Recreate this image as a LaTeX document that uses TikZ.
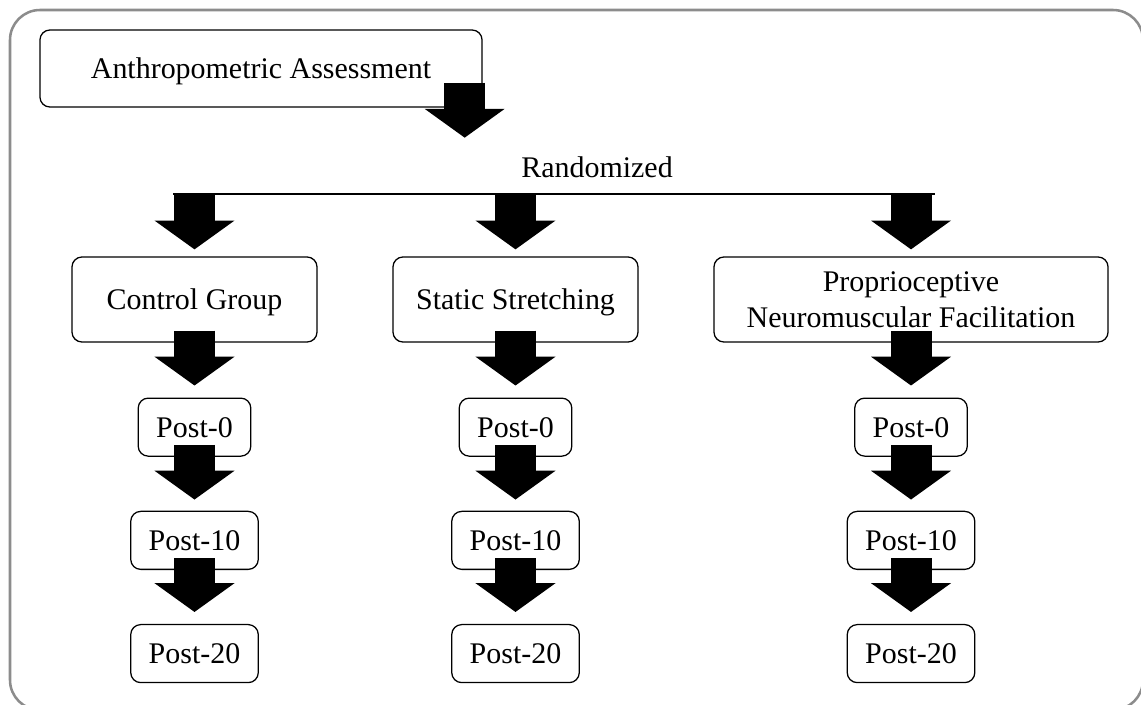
\documentclass[tikz,border=0pt]{standalone}
\usepackage{fontspec}
\setmainfont{Liberation Serif}
\usetikzlibrary{arrows.meta,calc}
\definecolor{framegray}{RGB}{140,140,140}

\begin{document}
\begin{tikzpicture}[x=0.025cm, y=-0.025cm, node distance={2.83cm},
	font=\fontsize{21.3pt}{25.6pt}\selectfont,
	box/.style = {draw, line width=0.9pt, rounded corners=0.25cm, inner sep=0pt, text depth=0pt, align=center},
	group/.style = {box, minimum width=6.125cm, minimum height=2.125cm},
	post/.style = {box, inner xsep=0.45cm, minimum height=1.45cm},
	bigarrow/.style = {line width=1.025cm, -{Triangle[length=0.72cm, width=2cm, line width=0pt]}}]

				\useasboundingbox (0,0) rectangle (1141,704);
				\draw[framegray, line width=1.8pt, rounded corners=0.75cm] (10,10) rectangle (1143,710);

				\node[box, minimum width=11.05cm, minimum height=1.925cm] (aa) at (261,68.5) {Anthropometric Assessment};
				\node[anchor=base] (rand) at (597,177) {Randomized};

				\node[group] (cg) at (194.5,299.5) {Control Group};
				\node[post] (cg0) [below of=cg, node distance=3.19cm] {Post-0};
				\node[post] (cg10) [below of=cg0] {Post-10};
				\node[post] (cg20) [below of=cg10] {Post-20};

				\node[group] (ss) at (515.5,299.5) {Static Stretching};
				\node[post] (ss0) [below of=ss, node distance=3.19cm] {Post-0};
				\node[post] (ss10) [below of=ss0] {Post-10};
				\node[post] (ss20) [below of=ss10] {Post-20};

				\node[group, minimum width=9.85cm] (pnf) at (911,299.5) {Proprioceptive\\Neuromuscular Facilitation};
				\node[post] (pnf0) [below of=pnf, node distance=3.19cm] {Post-0};
				\node[post] (pnf10) [below of=pnf0] {Post-10};
				\node[post] (pnf20) [below of=pnf10] {Post-20};

				\coordinate (l1) at (173,194);
				\coordinate (l2) at (935,194);
				\draw[line width=0.9pt] (l1) -- (l2);

				\draw[bigarrow] ($(aa.south east)+(-0.45cm,0.625cm)$) -- ($(aa.south east)+(-0.45cm,-0.75cm)$);

				\draw[bigarrow] (cg.north |- l1) -- ($(cg.north)+(0,0.175cm)$);
				\draw[bigarrow] (ss.north |- l1) -- ($(ss.north)+(0,0.175cm)$);
				\draw[bigarrow] (pnf.north |- l1) -- ($(pnf.north)+(0,0.175cm)$);

				\draw[bigarrow] ($(cg.south)+(0,0.3cm)$) -- ($(cg0.north)+(0,0.3cm)$);
				\draw[bigarrow] ($(cg0.south)+(0,0.3cm)$) -- ($(cg10.north)+(0,0.28cm)$);
				\draw[bigarrow] ($(cg10.south)+(0,0.3cm)$) -- ($(cg20.north)+(0,0.3cm)$);

				\draw[bigarrow] ($(ss.south)+(0,0.3cm)$) -- ($(ss0.north)+(0,0.3cm)$);
				\draw[bigarrow] ($(ss0.south)+(0,0.3cm)$) -- ($(ss10.north)+(0,0.28cm)$);
				\draw[bigarrow] ($(ss10.south)+(0,0.3cm)$) -- ($(ss20.north)+(0,0.3cm)$);

				\draw[bigarrow] ($(pnf.south)+(0,0.3cm)$) -- ($(pnf0.north)+(0,0.3cm)$);
				\draw[bigarrow] ($(pnf0.south)+(0,0.3cm)$) -- ($(pnf10.north)+(0,0.28cm)$);
				\draw[bigarrow] ($(pnf10.south)+(0,0.3cm)$) -- ($(pnf20.north)+(0,0.3cm)$);

			\end{tikzpicture}
\end{document}
